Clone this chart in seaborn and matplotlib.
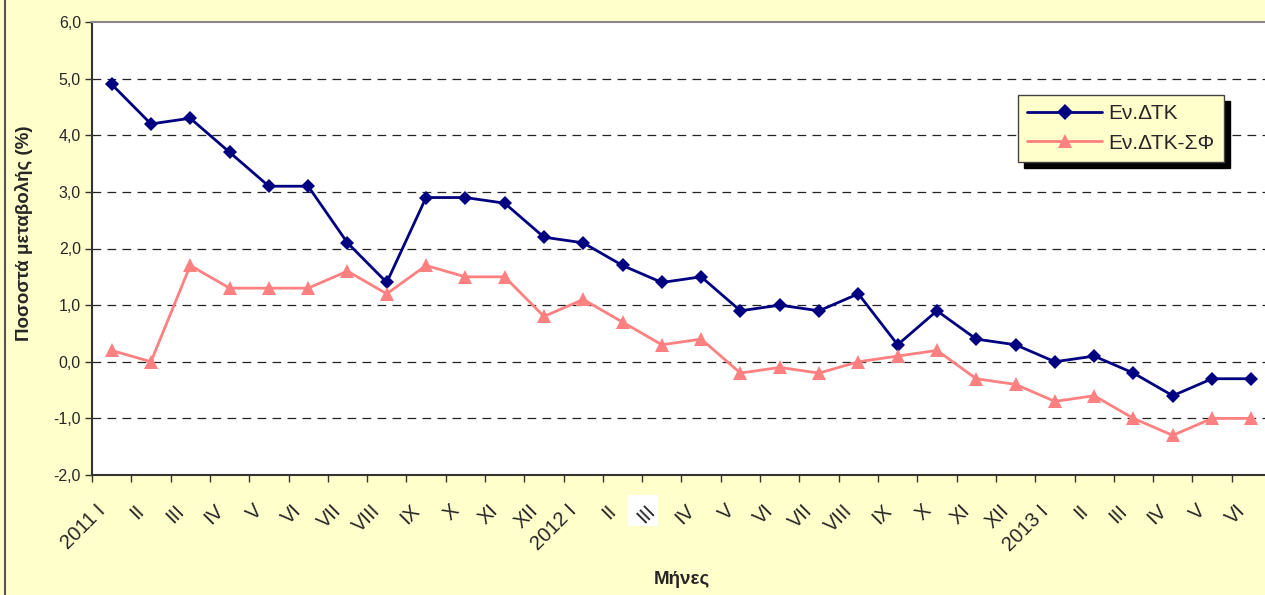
import numpy as np
import pandas as pd
import seaborn as sns
import matplotlib.pyplot as plt
from matplotlib.lines import Line2D
from matplotlib.patches import Rectangle
from matplotlib.ticker import FixedLocator, FuncFormatter
from matplotlib.transforms import ScaledTranslation

# month labels, 2011 I .. 2013 VI
months = ["2011 I", "II", "III", "IV", "V", "VI", "VII", "VIII", "IX", "X", "XI", "XII",
          "2012 I", "II", "III", "IV", "V", "VI", "VII", "VIII", "IX", "X", "XI", "XII",
          "2013 I", "II", "III", "IV", "V", "VI"]

hicp = [4.9, 4.2, 4.3, 3.7, 3.1, 3.1, 2.1, 1.4, 2.9, 2.9, 2.8, 2.2,
        2.1, 1.7, 1.4, 1.5, 0.9, 1.0, 0.9, 1.2, 0.3, 0.9, 0.4, 0.3,
        0.0, 0.1, -0.2, -0.6, -0.3, -0.3]
hicp_ct = [0.2, 0.0, 1.7, 1.3, 1.3, 1.3, 1.6, 1.2, 1.7, 1.5, 1.5, 0.8,
           1.1, 0.7, 0.3, 0.4, -0.2, -0.1, -0.2, 0.0, 0.1, 0.2, -0.3, -0.4,
           -0.7, -0.6, -1.0, -1.3, -1.0, -1.0]

series_names = ["Εν.ΔΤΚ", "Εν.ΔΤΚ-ΣΦ"]
colors = {"Εν.ΔΤΚ": "#000080", "Εν.ΔΤΚ-ΣΦ": "#FF8080"}
markers = {"Εν.ΔΤΚ": "D", "Εν.ΔΤΚ-ΣΦ": "^"}

idx = np.arange(len(months))
df = pd.DataFrame({
    "pos": np.concatenate([idx, idx]),
    "value": hicp + hicp_ct,
    "series": [series_names[0]] * len(months) + [series_names[1]] * len(months),
})

sns.set_style("white")
plt.rcParams["font.family"] = ["Liberation Sans", "DejaVu Sans"]

bg = "#FFFFCC"
fig = plt.figure(figsize=(12.65, 5.95), dpi=100, facecolor=bg)
ax = fig.add_axes([92 / 1265, 1 - 475 / 595, 1179 / 1265, 453 / 595])
ax.set_facecolor("white")

sns.lineplot(data=df, x="pos", y="value", hue="series", style="series",
             palette=colors, markers=markers, dashes=False, linewidth=2,
             markersize=8, markeredgewidth=0, ax=ax, legend=False)
# diamonds a bit smaller, triangles a bit bigger
for ln in ax.get_lines():
    if ln.get_marker() == "D":
        ln.set_markersize(7)
    elif ln.get_marker() == "^":
        ln.set_markersize(9.5)

ax.set_xlim(-0.5, 29.5)
ax.set_ylim(-2, 6)

# y axis
ax.yaxis.set_major_locator(FixedLocator(np.arange(-2, 7, 1)))
ax.yaxis.set_major_formatter(FuncFormatter(lambda v, p: f"{v:.1f}".replace(".", ",")))
for yv in range(-1, 6):
    ax.axhline(yv, color="#222222", lw=0.9, ls=(0, (7, 5)), zorder=0.5)

# x axis: ticks at boundaries, labels at centers
ax.xaxis.set_major_locator(FixedLocator(np.arange(-0.5, 30, 1)))
ax.xaxis.set_major_formatter(FuncFormatter(lambda v, p: ""))
ax.xaxis.set_minor_locator(FixedLocator(idx))
ax.set_xticklabels(months, minor=True)
ax.tick_params(axis="x", which="major", length=5, width=1, color="#333333", direction="out", bottom=True)
ax.tick_params(axis="x", which="minor", length=0, pad=19, labelsize=14.5)
ax.tick_params(axis="y", which="major", length=5, width=1, color="#333333", direction="out", left=True,
               labelsize=11.5, pad=3)
shift = ScaledTranslation(-16 / 100, 0, fig.dpi_scale_trans)
for lab in ax.get_xticklabels(minor=True):
    lab.set_rotation(45)
    lab.set_ha("right")
    lab.set_va("top")
    lab.set_rotation_mode("anchor")
    lab.set_transform(lab.get_transform() + shift)

# white selection box behind the 2012 "III" label (as in the original screenshot)
fig.add_artist(Rectangle((628 / 1265, 1 - 526 / 595), 30 / 1265, 31 / 595,
                         transform=fig.transFigure, facecolor="white", edgecolor="none", zorder=-1))

for side in ["left", "bottom"]:
    ax.spines[side].set_color("#333333")
    ax.spines[side].set_linewidth(1.5)
ax.spines["top"].set_color("#888888")
ax.spines["top"].set_linewidth(1.5)
ax.spines["right"].set_visible(False)

ax.set_xlabel("Μήνες", fontsize=13.5, fontweight="bold", va="center")
ax.xaxis.set_label_coords(0.5, (475 - 580) / 453)
ax.set_ylabel("Ποσοστά μεταβολής (%)", fontsize=13.5, fontweight="bold", va="center")
ax.yaxis.set_label_coords((24 - 92) / 1179, (475 - 233) / 453)

handles = [Line2D([], [], color=colors[s], marker=markers[s], lw=2,
                  markersize=8 if s == series_names[0] else 10, markeredgewidth=0)
           for s in series_names]
leg = ax.legend(handles, series_names, loc="upper left",
                bbox_to_anchor=(1018 / 1265, 1 - 95 / 595), bbox_transform=fig.transFigure,
                borderaxespad=0, fontsize=15, frameon=True, fancybox=False,
                facecolor=bg, edgecolor="#444444", framealpha=1,
                shadow={"color": "black", "alpha": 1, "ox": 4, "oy": -4},
                handlelength=3.6, handletextpad=0.3, borderpad=0.45, labelspacing=0.5)
leg.get_frame().set_linewidth(1)

# left border of the chart area
fig.add_artist(Line2D([5 / 1265, 5 / 1265], [0, 1], color="#555555", lw=1.5, transform=fig.transFigure))

fig.savefig("out.png", dpi=100, facecolor=bg)
